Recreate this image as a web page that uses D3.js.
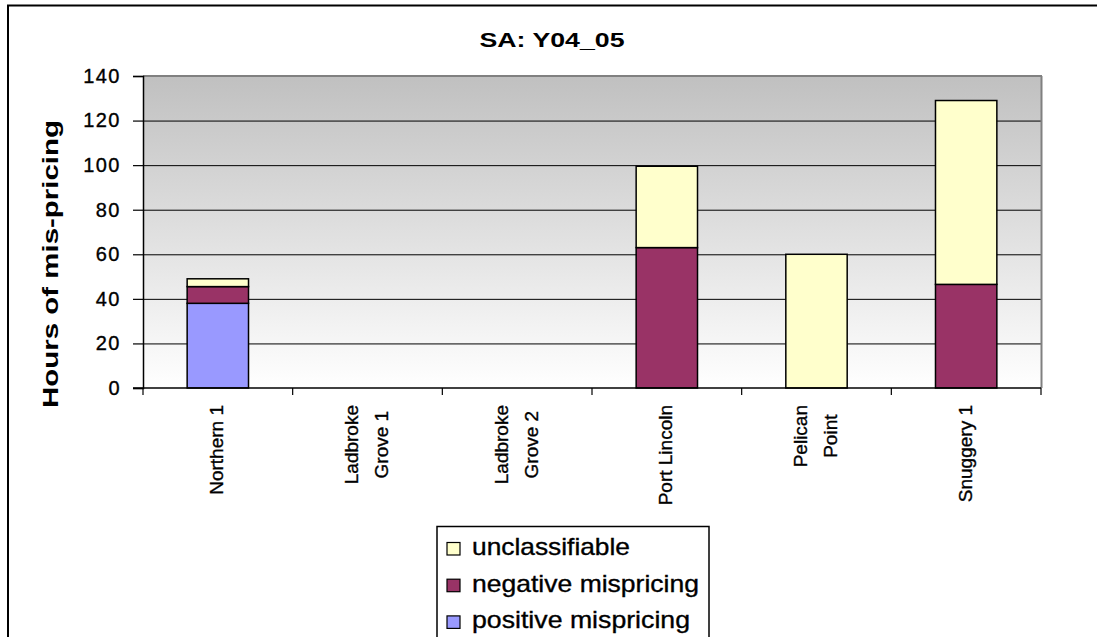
<!DOCTYPE html>
<html><head><meta charset="utf-8">
<script src="https://cdn.jsdelivr.net/npm/d3@7"></script>
<style>
html,body{margin:0;padding:0;background:#fff;}
svg{display:block;font-family:Arial,"Liberation Sans",sans-serif;}
.heavy{stroke:#000;stroke-width:0.35px;}
</style></head>
<body>
<svg id="chart" width="1097" height="637"></svg>
<script>
const title = "SA: Y04_05";
const yTitle = "Hours of mis-pricing";
const categories = ["Northern 1", "Ladbroke Grove 1", "Ladbroke Grove 2", "Port Lincoln", "Pelican Point", "Snuggery 1"];
const categoryLines = [["Northern 1"], ["Ladbroke", "Grove 1"], ["Ladbroke", "Grove 2"], ["Port Lincoln"], ["Pelican", "Point"], ["Snuggery 1"]];
const positiveMispricing = [38, 0, 0, 0, 0, 0];
const negativeMispricing = [7.5, 0, 0, 63, 0, 46.5];
const unclassifiable = [3.5, 0, 0, 36.5, 60, 82.5];
const yTicks = [0, 20, 40, 60, 80, 100, 120, 140];
const seriesNames = ["positive mispricing", "negative mispricing", "unclassifiable"];
const seriesColors = ["#9999ff", "#993366", "#ffffcc"];
const legendOrder = ["unclassifiable", "negative mispricing", "positive mispricing"];

const svg = d3.select("#chart");
const L = 143, R = 1041, T = 76, B = 388;

svg.append("rect").attr("x", 8).attr("y", 5.5).attr("width", 1100).attr("height", 700)
  .attr("fill", "#fff").attr("stroke", "#000").attr("stroke-width", 2);

const defs = svg.append("defs");
const grad = defs.append("linearGradient").attr("id", "bg").attr("x1", 0).attr("y1", 0).attr("x2", 0).attr("y2", 1);
grad.append("stop").attr("offset", "0%").attr("stop-color", "#c0c0c0");
grad.append("stop").attr("offset", "100%").attr("stop-color", "#ffffff");

const x = d3.scaleBand().domain(categories).range([L, R]).padding(0);
const y = d3.scaleLinear().domain([0, 140]).range([B, T]);

svg.append("rect").attr("x", L).attr("y", T).attr("width", R - L).attr("height", B - T).attr("fill", "url(#bg)");

svg.append("g").selectAll("line").data(yTicks.filter(d => d > 0 && d < 140)).join("line")
  .attr("x1", L).attr("x2", R).attr("y1", d => y(d) + 0.5).attr("y2", d => y(d) + 0.5)
  .attr("stroke", "#000").attr("stroke-width", 1);
svg.append("line").attr("x1", L).attr("x2", R + 1).attr("y1", T).attr("y2", T).attr("stroke", "#808080").attr("stroke-width", 2);
svg.append("line").attr("x1", R + 0.5).attr("x2", R + 0.5).attr("y1", T).attr("y2", B).attr("stroke", "#808080").attr("stroke-width", 2);

const table = categories.map((c, i) => ({
  cat: c,
  "positive mispricing": positiveMispricing[i],
  "negative mispricing": negativeMispricing[i],
  "unclassifiable": unclassifiable[i]
}));
const stacked = d3.stack().keys(seriesNames)(table);
const bw = x.bandwidth() * 0.41;
stacked.forEach((s, si) => {
  svg.append("g").selectAll("rect").data(s.filter(d => d[1] - d[0] > 0)).join("rect")
    .attr("x", d => x(d.data.cat) + (x.bandwidth() - bw) / 2)
    .attr("width", bw)
    .attr("y", d => y(d[1]))
    .attr("height", d => y(d[0]) - y(d[1]))
    .attr("fill", seriesColors[si])
    .attr("stroke", "#000").attr("stroke-width", 1.5);
});

const yAxis = d3.axisLeft(y).tickValues(yTicks).tickSize(10).tickPadding(12);
const ya = svg.append("g").attr("transform", `translate(${L},0)`).call(yAxis);
ya.select(".domain").attr("stroke", "#000").attr("stroke-width", 1.5);
ya.selectAll(".tick line").attr("stroke", "#000").attr("stroke-width", 1.2);
ya.selectAll(".tick text").attr("font-size", 20).attr("fill", "#000").attr("class", "heavy")
  .attr("font-family", 'Arial,"Liberation Sans",sans-serif').style("letter-spacing", "1.5px");

const xBounds = categories.map(c => x(c)).concat([R]);
svg.append("line").attr("x1", L - 10).attr("x2", R).attr("y1", B).attr("y2", B).attr("stroke", "#000").attr("stroke-width", 1.5);
svg.append("g").selectAll("line").data(xBounds).join("line")
  .attr("x1", d => d).attr("x2", d => d).attr("y1", B).attr("y2", B + 7)
  .attr("stroke", "#000").attr("stroke-width", 1.2);

categories.forEach((c, i) => {
  const lines = categoryLines[i];
  const cx = x(c) + x.bandwidth() / 2;
  const g = svg.append("g");
  const texts = lines.map((ln, li) => g.append("text")
    .attr("x", 0).attr("y", (li - (lines.length - 1) / 2) * 30)
    .attr("dy", "0.35em").attr("text-anchor", "middle").attr("class", "heavy")
    .attr("font-size", 19).attr("fill", "#000").text(ln));
  const maxLen = d3.max(texts, t => t.node().getComputedTextLength());
  g.attr("transform", `translate(${cx - 1},${405 + maxLen / 2}) rotate(-90)`);
});

svg.append("text").attr("x", 552).attr("y", 47).attr("text-anchor", "middle")
  .attr("font-size", 20.5).attr("font-weight", "bold").attr("textLength", 145).attr("lengthAdjust", "spacingAndGlyphs").text(title);

svg.append("text").attr("transform", "translate(58,264) rotate(-90)").attr("text-anchor", "middle")
  .attr("font-size", 22.5).attr("font-weight", "bold").attr("textLength", 288).attr("lengthAdjust", "spacingAndGlyphs").text(yTitle);

svg.append("rect").attr("x", 437).attr("y", 526.5).attr("width", 272).attr("height", 200)
  .attr("fill", "#fff").attr("stroke", "#000").attr("stroke-width", 1.5);
const legendLens = [158, 227, 218];
legendOrder.forEach((name, i) => {
  const si = seriesNames.indexOf(name);
  const yy = 555 + i * 36.7;
  svg.append("rect").attr("x", 447).attr("y", yy - 12.5).attr("width", 13).attr("height", 12.5)
    .attr("fill", seriesColors[si]).attr("stroke", "#000").attr("stroke-width", 1.2);
  svg.append("text").attr("x", 472).attr("y", yy).attr("font-size", 24).attr("fill", "#000").attr("class", "heavy")
    .attr("textLength", legendLens[i]).attr("lengthAdjust", "spacingAndGlyphs").text(name);
});
</script>
</body></html>
